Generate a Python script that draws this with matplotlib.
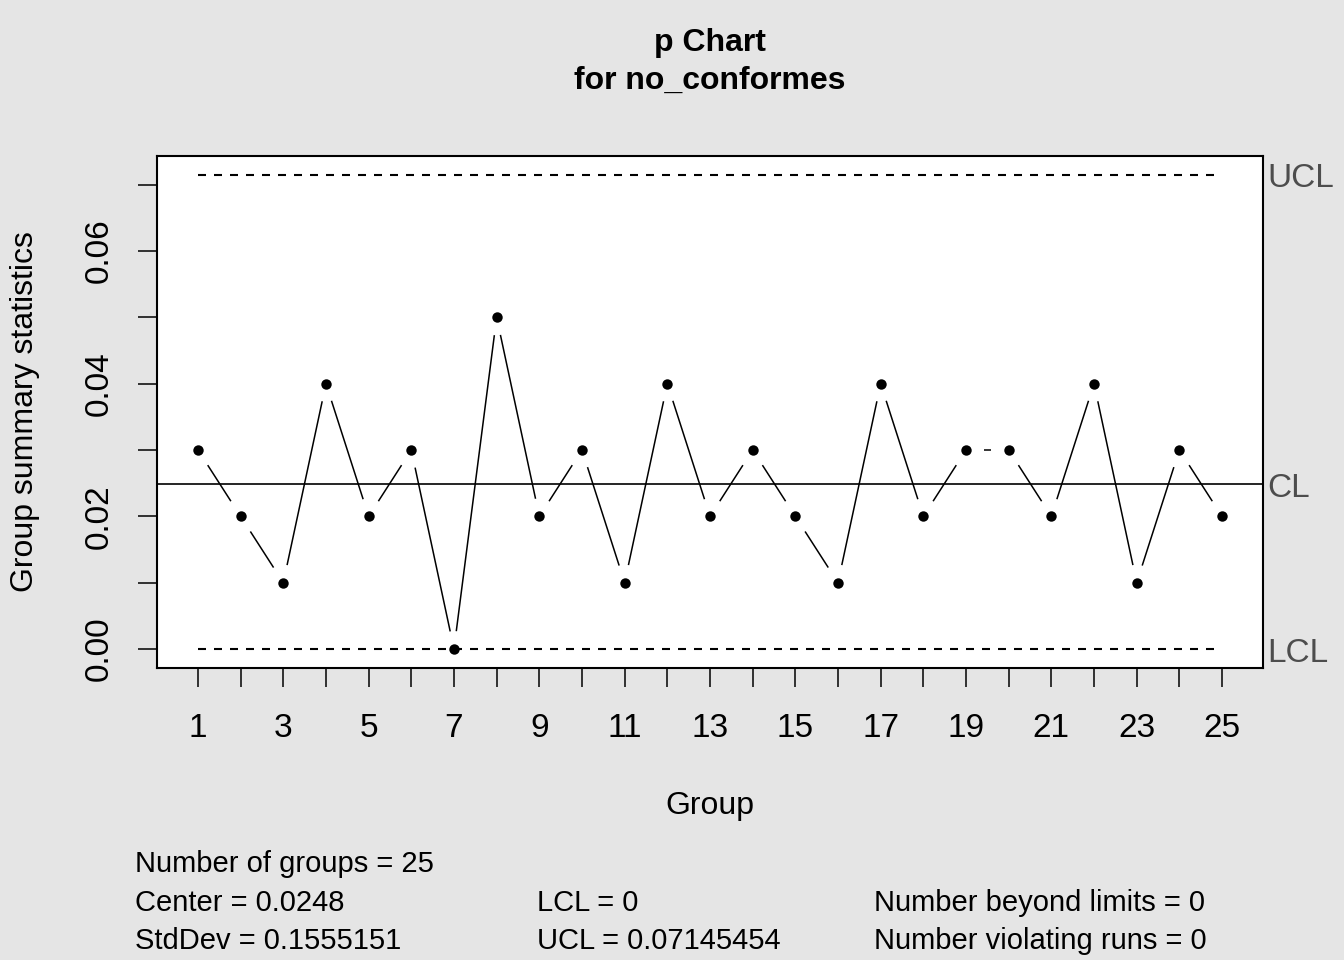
import numpy as np
import matplotlib
matplotlib.use("Agg")
import matplotlib.pyplot as plt
import matplotlib.transforms as mtransforms

plt.rcParams['font.family'] = ['Liberation Sans', 'DejaVu Sans']

# data
groups = np.arange(1, 26)
p_values = [0.03, 0.02, 0.01, 0.04, 0.02, 0.03, 0.00, 0.05, 0.02, 0.03,
            0.01, 0.04, 0.02, 0.03, 0.02, 0.01, 0.04, 0.02, 0.03, 0.03,
            0.02, 0.04, 0.01, 0.03, 0.02]
center = 0.0248
lcl = 0.0
ucl = 0.07145454
stddev = 0.1555151
limit_labels = ["UCL", "CL", "LCL"]
stats_lines = [
    ("Number of groups = 25", ""),
    ("Center = 0.0248", "LCL = 0", "Number beyond limits = 0"),
    ("StdDev = 0.1555151", "UCL = 0.07145454", "Number violating runs = 0"),
]

bg = "#E5E5E5"
W, H = 1344, 960
fig = plt.figure(figsize=(W / 100, H / 100), dpi=100, facecolor=bg)
ax = fig.add_axes([157 / W, 1 - 668 / H, (1263 - 157) / W, (668 - 156) / H])
ax.set_facecolor("white")

# R-style 4% extension
xr = groups.max() - groups.min()
ax.set_xlim(groups.min() - 0.04 * xr, groups.max() + 0.04 * xr)
yr = ucl - lcl
ax.set_ylim(lcl - 0.04 * yr, ucl + 0.04 * yr)

# control limits
dash = (0, (3.84, 3.84))
ax.plot([groups[0], groups[-1]], [ucl, ucl], color="black", lw=1.5, ls=dash)
ax.plot([groups[0], groups[-1]], [lcl, lcl], color="black", lw=1.5, ls=dash)
ax.axhline(center, color="black", lw=1.2)

# type = "b": lines with gaps around the points
fig.canvas.draw()
pix = ax.transData.transform(np.column_stack([groups, p_values]))
inv = ax.transData.inverted()
gap = 18
for a, b in zip(pix[:-1], pix[1:]):
    d = b - a
    L = np.hypot(*d)
    if L <= 2 * gap:
        continue
    u = d / L
    seg = inv.transform(np.array([a + u * gap, b - u * gap]))
    ax.plot(seg[:, 0], seg[:, 1], color="black", lw=1.1, solid_capstyle="butt")
ax.plot(groups, p_values, "o", color="black", ms=7.5, mew=0)

for s in ax.spines.values():
    s.set_linewidth(1.5)

ax.set_xticks(groups)
ax.set_xticklabels([str(g) if g % 2 == 1 else "" for g in groups])
yt = np.arange(0, 0.071, 0.01)
ax.set_yticks(yt)
ax.set_yticklabels(["%.2f" % v if i % 2 == 0 else "" for i, v in enumerate(yt)],
                   rotation=90, va="center")
ax.tick_params(axis="both", length=13.7, width=1.1, labelsize=24)
ax.tick_params(axis="x", pad=19)
ax.tick_params(axis="y", pad=17)

# limit labels on the right
shift = mtransforms.offset_copy(ax.get_yaxis_transform(), fig=fig, x=0, y=-4,
                                units="dots")
for lab, val in zip(limit_labels, [ucl, center, lcl]):
    ax.text(1.004, val, lab, transform=shift, ha="left",
            va="center", fontsize=24, color="#4D4D4D", clip_on=False)

fig.text(710 / W, 1 - 43 / H, "p Chart", ha="center", va="center",
         fontsize=23, fontweight="bold")
fig.text(710 / W, 1 - 81 / H, "for no_conformes", ha="center", va="center",
         fontsize=23, fontweight="bold")
fig.text(710 / W, 1 - 806 / H, "Group", ha="center", va="center", fontsize=23)
fig.text(25 / W, 1 - 412 / H, "Group summary statistics", ha="center",
         va="center", rotation=90, fontsize=23)

cols = [135, 537, 874]
rows = [864, 903, 941]
for r, line in zip(rows, stats_lines):
    for c, txt in zip(cols, line):
        if txt:
            fig.text(c / W, 1 - r / H, txt, ha="left", va="center", fontsize=21)

fig.savefig("out.png", dpi=100, facecolor=bg)
